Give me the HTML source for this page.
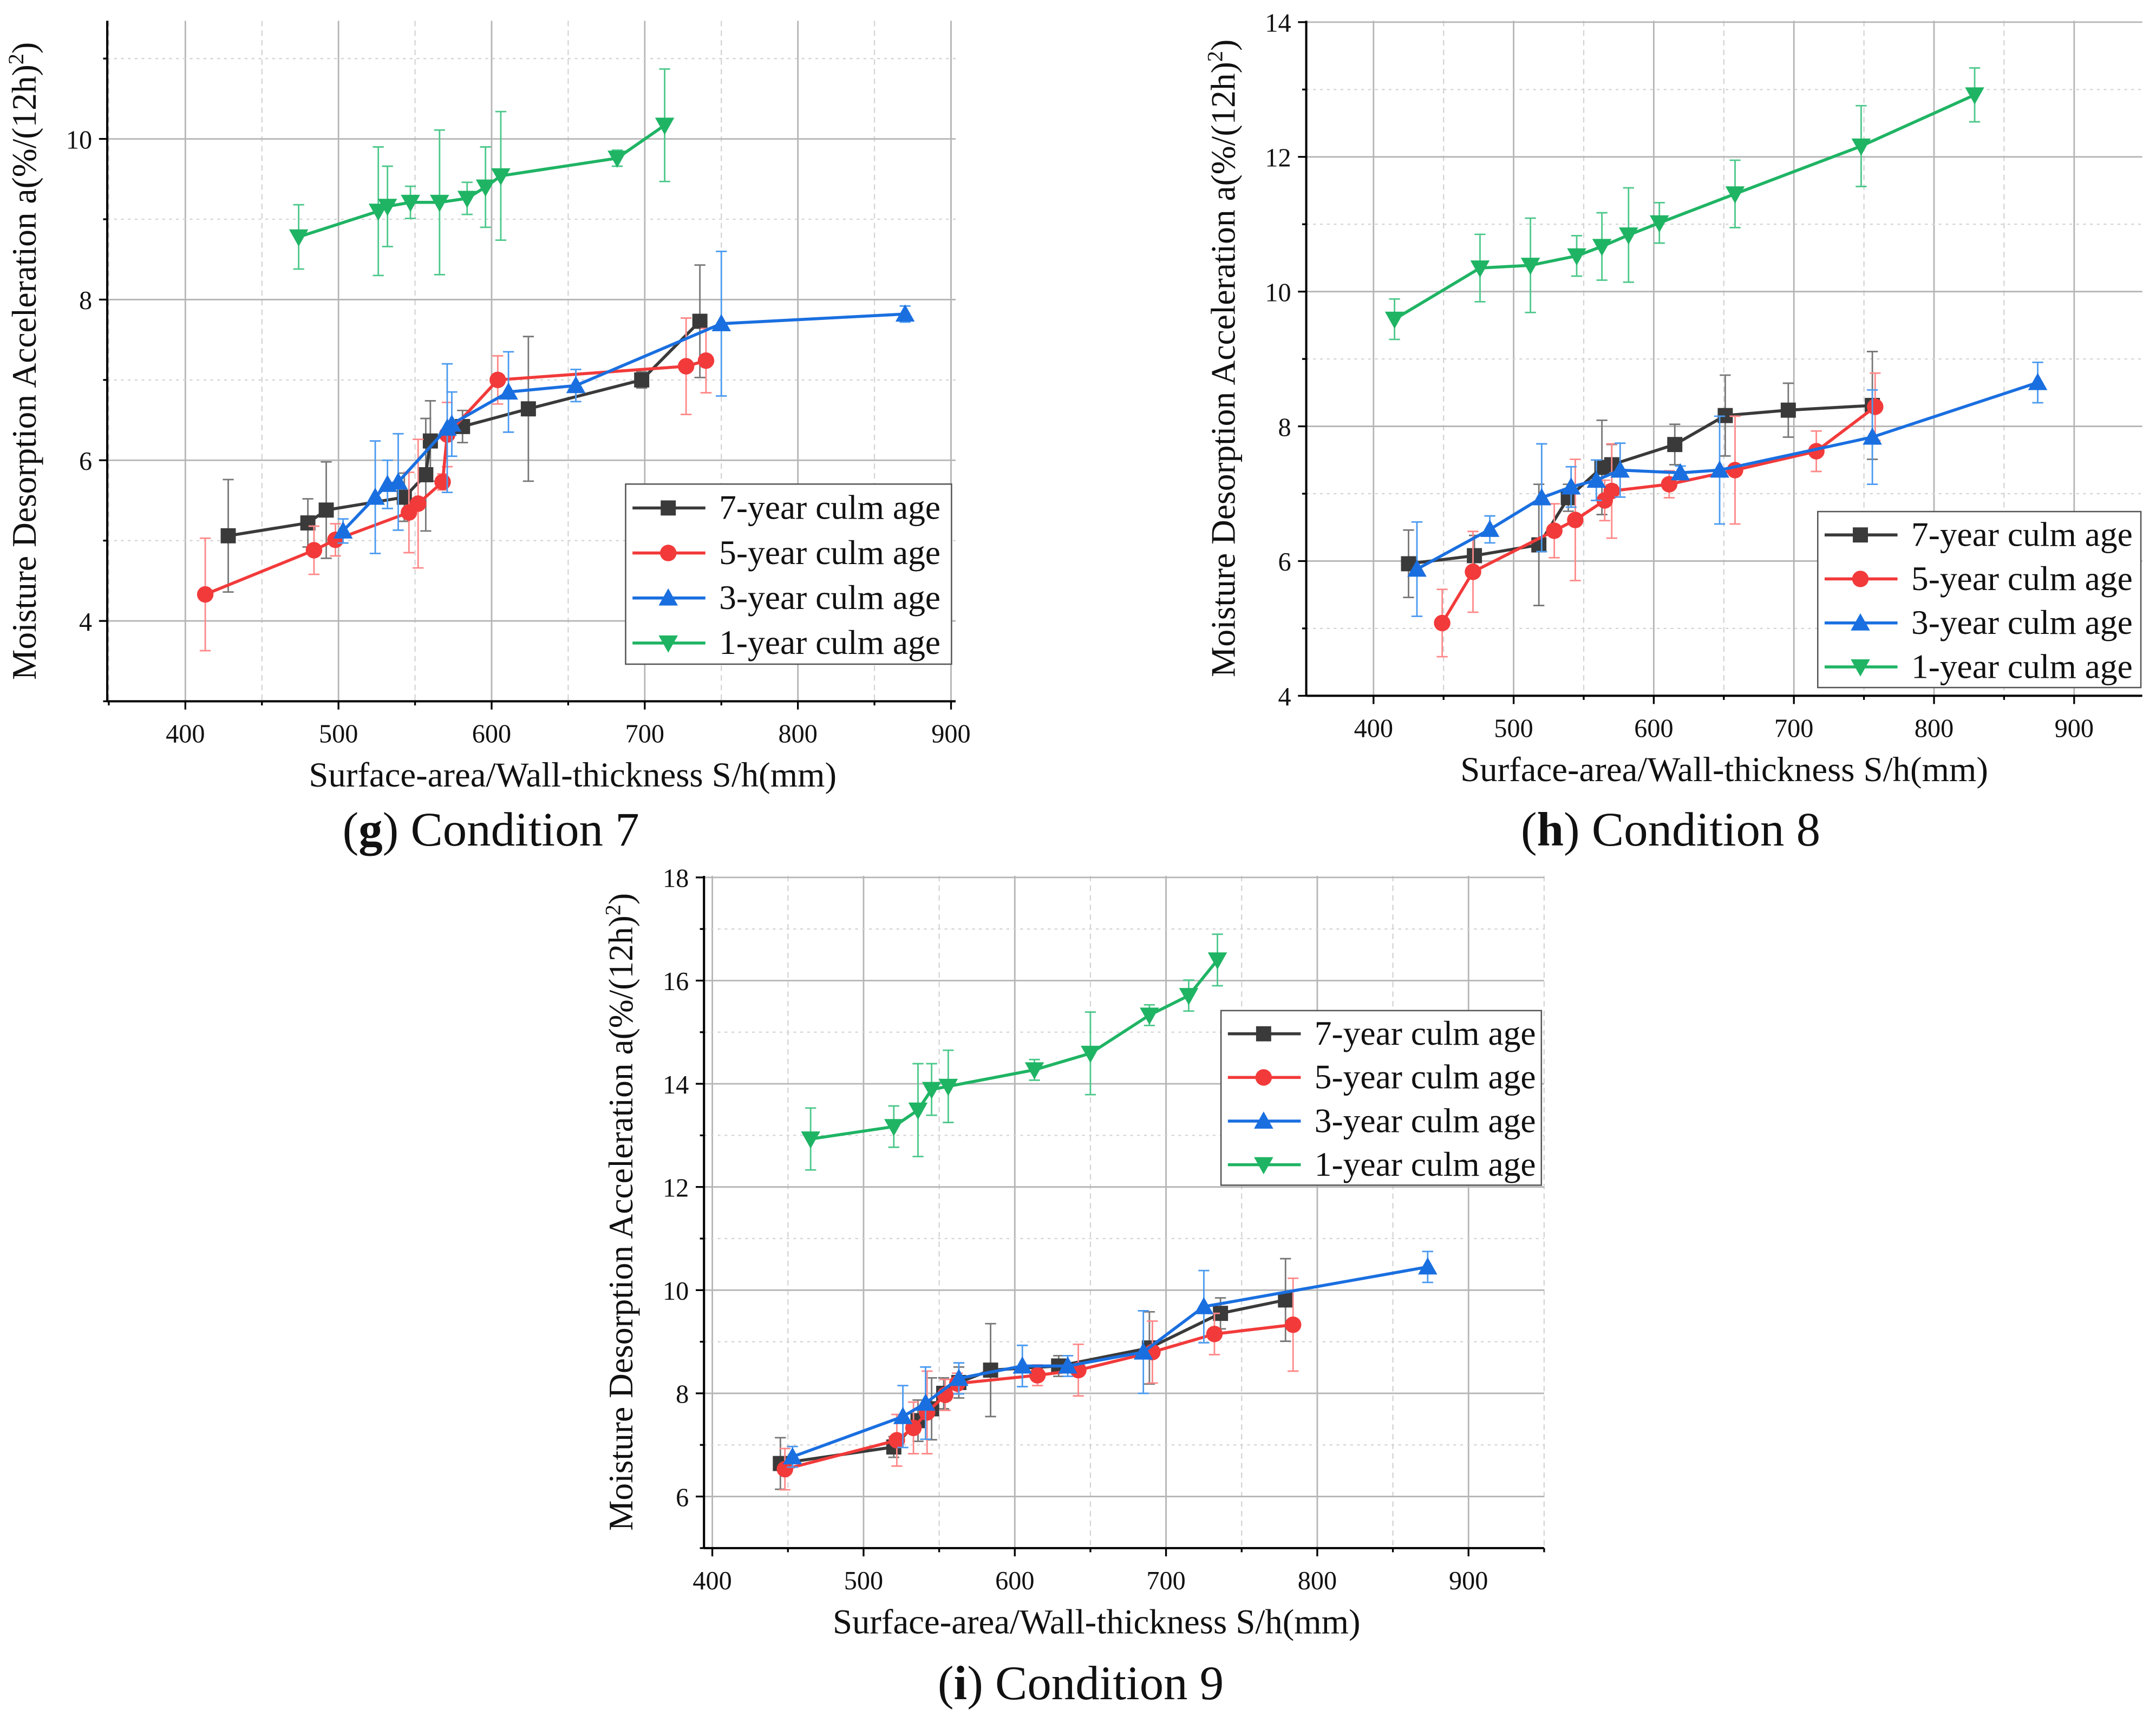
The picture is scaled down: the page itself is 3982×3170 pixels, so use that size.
<!DOCTYPE html>
<html><head><meta charset="utf-8"><style>
html,body{margin:0;padding:0;background:#fff;}
svg{display:block;font-family:"Liberation Serif",serif;}
</style></head><body>
<svg id="fig" width="3982" height="3170" viewBox="0 0 1568 1248" xmlns="http://www.w3.org/2000/svg"></svg>
<script>
// ---- Panel g (Condition 7) data ----
const gX7=[428,480,492,543,557,560,581,624,698,736];
const gY7=[5.06,5.22,5.38,5.54,5.82,6.24,6.42,6.64,7.0,7.73];
const gE7=[0.7,0.3,0.6,0.3,0.7,0.5,0.2,0.9,0.1,0.7];
const gX5=[413,484,498,546,552,568,571,604,727,740];
const gY5=[4.33,4.88,5.01,5.35,5.46,5.73,6.32,7.0,7.17,7.24];
const gE5=[0.7,0.3,0.2,0.5,0.8,0.1,0.4,0.3,0.6,0.4];
const gX3=[503,524,532,539,571,574,611,655,750,870];
const gY3=[5.12,5.54,5.7,5.73,6.4,6.45,6.85,6.93,7.7,7.82];
const gE3=[0.15,0.7,0.3,0.6,0.8,0.4,0.5,0.2,0.9,0.1];
const gX1=[474,526,532,547,566,584,596,606,682,713];
const gY1=[8.78,9.1,9.16,9.21,9.21,9.26,9.4,9.54,9.76,10.17];
const gE1=[0.4,0.8,0.5,0.2,0.9,0.2,0.5,0.8,0.1,0.7];
// ---- Panel h (Condition 8) data ----
const hX7=[425,472,518,539,563,570,615,651,696,756];
const hY7=[5.96,6.08,6.24,6.94,7.39,7.43,7.73,8.16,8.24,8.31];
const hE7=[0.5,0.3,0.9,0.2,0.7,0.3,0.3,0.6,0.4,0.8];
const hX5=[449,471,529,544,565,570,611,658,716,758];
const hY5=[5.08,5.84,6.45,6.61,6.9,7.04,7.14,7.35,7.63,8.29];
const hE5=[0.5,0.6,0.4,0.9,0.3,0.7,0.2,0.8,0.3,0.5];
const hX3=[431,483,520,541,559,576,619,647,756,874];
const hY3=[5.88,6.47,6.94,7.1,7.2,7.35,7.31,7.35,7.84,8.65];
const hE3=[0.7,0.2,0.8,0.3,0.3,0.4,0.1,0.8,0.7,0.3];
const hX1=[415,476,512,545,563,582,604,658,748,829];
const hY1=[9.59,10.35,10.39,10.53,10.67,10.84,11.02,11.45,12.16,12.92];
const hE1=[0.3,0.5,0.7,0.3,0.5,0.7,0.3,0.5,0.6,0.4];
// ---- Panel i (Condition 9) data ----
const iX7=[445,520,536,545,553,563,584,629,689,736,779];
const iY7=[6.64,6.96,7.47,7.7,8.0,8.21,8.45,8.53,8.88,9.55,9.81];
const iE7=[0.5,0.2,0.4,0.6,0.3,0.3,0.9,0.2,0.7,0.3,0.8];
const iX5=[448,522,533,542,554,562,615,642,691,732,784];
const iY5=[6.53,7.09,7.33,7.63,7.97,8.19,8.35,8.45,8.8,9.15,9.33];
const iE5=[0.4,0.5,0.5,0.8,0.3,0.2,0.2,0.5,0.6,0.4,0.9];
const iX3=[453,526,541,563,605,635,685,725,873];
const iY3=[6.77,7.55,7.81,8.29,8.53,8.53,8.8,9.68,10.45];
const iE3=[0.2,0.6,0.7,0.3,0.4,0.2,0.8,0.7,0.3];
const iX1=[465,520,536,545,556,613,650,689,715,734];
const iY1=[12.93,13.17,13.49,13.89,13.95,14.27,14.59,15.33,15.71,16.4];
const iE1=[0.6,0.4,0.9,0.5,0.7,0.2,0.8,0.2,0.3,0.5];
const legendLabels=["7-year culm age","5-year culm age","3-year culm age","1-year culm age"];
const gxTicks=[400,500,600,700,800,900], gyTicks=[4,6,8,10];
const hxTicks=[400,500,600,700,800,900], hyTicks=[4,6,8,10,12,14];
const ixTicks=[400,500,600,700,800,900], iyTicks=[6,8,10,12,14,16,18];

const NS="http://www.w3.org/2000/svg";
const svg=document.getElementById('fig');
function mk(tag,attrs,parent){const e=document.createElementNS(NS,tag);for(const k in attrs)e.setAttribute(k,attrs[k]);(parent||svg).appendChild(e);return e;}
const colors=["#3a3a3a","#f23a3a","#1a6fe0","#1fb464"];
const ecolors=["#777","#f88","#4a9af0","#4cc88a"];

function marker(g,type,cx,cy,col){
  let e;
  if(type===0)e=mk('rect',{x:cx-5.5,y:cy-5.5,width:11,height:11,fill:col},g);
  else if(type===1)e=mk('circle',{cx:cx,cy:cy,r:6,fill:col},g);
  else if(type===2)e=mk('polygon',{points:`${cx},${cy-7} ${cx-7},${cy+5.5} ${cx+7},${cy+5.5}`,fill:col},g);
  else e=mk('polygon',{points:`${cx},${cy+7} ${cx-7},${cy-5.5} ${cx+7},${cy-5.5}`,fill:col},g);
  return e;
}

function panel(p){
  const g=mk('g',{});
  
  
  const sx=v=>p.L+(v-p.x0)/(p.x1-p.x0)*(p.R-p.L);
  const sy=v=>p.B-(v-p.y0)/(p.y1-p.y0)*(p.B-p.T);
  const xs=p.xt; const xstep=xs[1]-xs[0];
  for(let v=xs[0]-xstep/2; v<=p.x1; v+=xstep/2){
    if(v<p.x0)continue;
    const major=Math.abs((v-xs[0])%xstep)<1e-6;
    const l=mk('line',{x1:sx(v),x2:sx(v),y1:p.T,y2:p.B,stroke:major?"#b5b5b5":"#d4d4d4","stroke-width":major?1.1:0.9,"stroke-dasharray":major?"":"4,3"},g);
    
  }
  const ys=p.yt; const ystep=ys[1]-ys[0];
  for(let v=ys[0]-ystep/2; v<=p.y1+1e-6; v+=ystep/2){
    if(v<p.y0)continue;
    const major=Math.abs((v-ys[0])%ystep)<1e-6;
    const l=mk('line',{x1:p.L,x2:p.R,y1:sy(v),y2:sy(v),stroke:major?"#b5b5b5":"#d4d4d4","stroke-width":major?1.1:0.9,"stroke-dasharray":major?"":"2,3"},g);
    
  }
  const ax=mk('line',{x1:p.L,x2:p.R,y1:p.B,y2:p.B,stroke:"#000","stroke-width":1.6},g);
  
  const ay=mk('line',{x1:p.L,x2:p.L,y1:p.T,y2:p.B,stroke:"#000","stroke-width":1.6},g);
  
  for(let v=xs[0]-xstep/2; v<=p.x1; v+=xstep/2){
    if(v<p.x0)continue;
    const major=Math.abs((v-xs[0])%xstep)<1e-6;
    mk('line',{x1:sx(v),x2:sx(v),y1:p.B,y2:p.B+(major?6:3),stroke:"#000","stroke-width":1.3},g);
  }
  xs.forEach(v=>{const t=mk('text',{x:sx(v),y:p.B+30,"font-size":19,"text-anchor":"middle",fill:"#111"},g);t.textContent=v;
    });
  for(let v=ys[0]-ystep/2; v<=p.y1+1e-6; v+=ystep/2){
    if(v<p.y0)continue;
    const major=Math.abs((v-ys[0])%ystep)<1e-6;
    mk('line',{x1:p.L-(major?6:3),x2:p.L,y1:sy(v),y2:sy(v),stroke:"#000","stroke-width":1.3},g);
  }
  ys.forEach(v=>{const t=mk('text',{x:p.L-11,y:sy(v)+7,"font-size":19,"text-anchor":"end",fill:"#111"},g);t.textContent=v;
    });
  const xt=mk('text',{x:(p.L+p.R)/2+p.xto,y:p.B+62,"font-size":25.5,"text-anchor":"middle",fill:"#111"},g);
  xt.textContent="Surface-area/Wall-thickness S/h(mm)";
  
  const ytx=p.L-52, yty=(p.T+p.B)/2;
  const yt=mk('text',{x:ytx,y:yty,"font-size":25,"text-anchor":"middle",fill:"#111",transform:`rotate(-90 ${ytx} ${yty})`},g);
  
  yt.appendChild(document.createTextNode("Moisture Desorption Acceleration a(%/(12h)"));
  const sup=mk('tspan',{"font-size":16,dy:-9},yt);sup.textContent="2";
  const cl=mk('tspan',{dy:9},yt);cl.textContent=")";
  p.series.forEach((s,k)=>{
    const sg=mk('g',{},g);
    
    
    s.x.forEach((xv,i)=>{
      const cx=sx(xv),y1=sy(s.y[i]+s.e[i]),y2=sy(s.y[i]-s.e[i]);
      mk('line',{x1:cx,x2:cx,y1:y1,y2:y2,stroke:ecolors[k],"stroke-width":1.1},sg);
      mk('line',{x1:cx-4,x2:cx+4,y1:y1,y2:y1,stroke:ecolors[k],"stroke-width":1.1},sg);
      mk('line',{x1:cx-4,x2:cx+4,y1:y2,y2:y2,stroke:ecolors[k],"stroke-width":1.1},sg);
    });
    const pts=s.x.map((xv,i)=>sx(xv)+","+sy(s.y[i])).join(" ");
    const pl=mk('polyline',{points:pts,fill:"none",stroke:colors[k],"stroke-width":2.2},sg);
    
    s.x.forEach((xv,i)=>{const m=marker(sg,k,sx(xv),sy(s.y[i]),colors[k]);
      });
  });
  const lg=mk('g',{},g);
  
  mk('rect',{x:p.lx,y:p.ly,width:p.lw,height:p.lh,fill:"#fff",stroke:"#555","stroke-width":1},lg);
  legendLabels.forEach((lab,k)=>{
    const yy=p.ly+p.lh*(k+0.5)/4+1;
    const eg=mk('g',{},lg);
    mk('line',{x1:p.lx+5,x2:p.lx+58,y1:yy,y2:yy,stroke:colors[k],"stroke-width":2.2},eg);
    marker(eg,k,p.lx+31,yy,colors[k]);
    const t=mk('text',{x:p.lx+68,y:yy+8,"font-size":25,fill:"#111"},eg);t.textContent=lab;
  });
  const cap=mk('text',{x:p.cx,y:p.cy,"font-size":35,"text-anchor":"middle",fill:"#111"},g);
  
  cap.appendChild(document.createTextNode("("));
  const b=mk('tspan',{"font-weight":"bold"},cap);b.textContent=p.letter;
  cap.appendChild(document.createTextNode(") "+p.cap));
}

panel({name:'panel-g-condition-7',L:78,R:695,T:15,B:510,x0:349,x1:903,y0:3,y1:11.47,xt:gxTicks,yt:gyTicks,xto:30,
  series:[{x:gX7,y:gY7,e:gE7},{x:gX5,y:gY5,e:gE5},{x:gX3,y:gY3,e:gE3},{x:gX1,y:gY1,e:gE1}],
  lx:455,ly:352,lw:237,lh:131,cx:357,cy:615,letter:'g',cap:'Condition 7'});
panel({name:'panel-h-condition-8',L:950,R:1558,T:15,B:506,x0:352,x1:948.6,y0:4,y1:14.02,xt:hxTicks,yt:hyTicks,xto:0,
  series:[{x:hX7,y:hY7,e:hE7},{x:hX5,y:hY5,e:hE5},{x:hX3,y:hY3,e:hE3},{x:hX1,y:hY1,e:hE1}],
  lx:1322,ly:372,lw:235,lh:128,cx:1215,cy:615,letter:'h',cap:'Condition 8'});
panel({name:'panel-i-condition-9',L:512,R:1123,T:637,B:1126,x0:394.5,x1:950,y0:5,y1:18.03,xt:ixTicks,yt:iyTicks,xto:-20,
  series:[{x:iX7,y:iY7,e:iE7},{x:iX5,y:iY5,e:iE5},{x:iX3,y:iY3,e:iE3},{x:iX1,y:iY1,e:iE1}],
  lx:888,ly:735,lw:233,lh:127,cx:786,cy:1236,letter:'i',cap:'Condition 9'});
</script>
</body></html>
